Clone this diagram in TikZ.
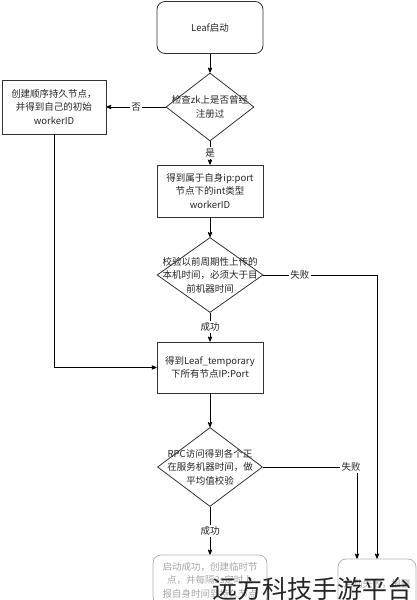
\documentclass[tikz,border=0pt]{standalone}
\usepackage{fontspec}
\setmainfont{Noto Sans CJK SC}
\usepackage{tikz}
\usetikzlibrary{arrows}
\usetikzlibrary{shapes.geometric}

\begin{document}
\begin{tikzpicture}[>=stealth',x=1pt,y=-1pt,line width=0.8pt]
		\tikzstyle{txt}=[font=\fontsize{9.5pt}{13.5pt}\selectfont,text=black!85,align=center];
		\tikzstyle{process}=[txt,rectangle,draw=black!80,minimum width=106pt,minimum height=52pt,inner sep=2pt];
		\tikzstyle{startbox}=[process,rounded corners=8pt];
		\tikzstyle{endbox}=[process,rounded corners=8pt,draw=black!30,text=black!35,minimum height=50pt];
		\tikzstyle{decision}=[diamond,draw=black!80,inner sep=0pt,minimum width=88pt,minimum height=68pt];
		\tikzstyle{inlabel}=[txt,fill=white,inner sep=1.5pt];
		\useasboundingbox(0,0)rectangle(417,600);
		\clip(0,0)rectangle(417,600);

		\node[startbox](00) at (210,27.5){Leaf启动};

		\node[decision,below of=00,node distance=79.5pt,
			label={[txt]center:检查zk上是否曾经\\注册过}](10){};
		\node[process,left of=10,node distance=156pt,minimum width=104pt,minimum height=54pt](11){创建顺序持久节点，\\并得到自己的初始\\workerID};

		\node[process,below of=10,node distance=84pt](20){得到属于自身ip:port\\节点下的int类型\\workerID};

		\node[decision,below of=20,node distance=84pt,minimum width=106pt,minimum height=75pt,
			label={[txt]center:校验以前周期性上传的\\本机时间，必须大于目\\前机器时间}](30){};

		\node[process,below of=30,node distance=92.5pt,minimum height=51pt](40){得到Leaf\_temporary\\下所有节点IP:Port};

		\node[decision,below of=40,node distance=99.5pt,minimum width=105pt,minimum height=79pt,
			label={[txt]center:RPC访问得到各个正\\在服务机器时间，做\\平均值校验}](50){};

		\node[endbox,below of=50,node distance=113pt,minimum width=114pt](60){启动成功，创建临时节\\点，并每隔3s定时上\\报自身时间到持久节点};
		\node[endbox,right of=60,node distance=167pt,minimum width=78pt,yshift=-4pt](61){启动失败，报警};

		\draw[->](00)--(10);
		\draw[->](10)--node[inlabel]{否}(11);
		\draw[->](10)--node[inlabel]{是}(20);
		\draw[->](20)--(30);
		\draw[->](30)--node[inlabel]{成功}(40);
		\draw[->](11)|-(40);
		\draw[->](40)--(50);
		\draw[->](50)--node[inlabel]{成功}(60);
		\draw[->](30.east)-|node[inlabel,pos=0.16]{失败}(61.north);
		\draw[->](50.east)-|node[inlabel,xshift=-6pt]{失败}([xshift=-20pt]61.north);

		\node[font=\fontsize{25pt}{25pt}\selectfont,text=black!85](wm) at (312,589){远方科技手游平台};
	\end{tikzpicture}
\end{document}
